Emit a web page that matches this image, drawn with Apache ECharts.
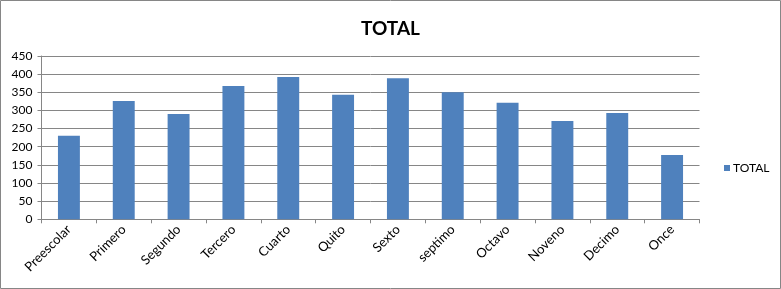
<!DOCTYPE html>
<html><head><meta charset="utf-8">
<script src="https://cdn.jsdelivr.net/npm/echarts@6/dist/echarts.min.js"></script>
<style>html,body{margin:0;padding:0;background:#fff}#c{width:781px;height:289px}</style>
</head><body><div id="c"></div>
<script>
const categories = ['Preescolar','Primero','Segundo','Tercero','Cuarto','Quito','Sexto','septimo','Octavo','Noveno','Decimo','Once'];
const totalValues = [230, 326, 290, 367, 392, 343, 389, 350, 321, 271, 293, 177];
const yTicks = {min: 0, max: 450, interval: 50};
const seriesName = 'TOTAL';
const titleText = 'TOTAL';

const chart = echarts.init(document.getElementById('c'), null, {renderer: 'canvas'});
const font = 'Lato, "Open Sans", sans-serif';
chart.setOption({
  animation: false,
  backgroundColor: '#fff',
  textStyle: {fontFamily: font},
  title: {text: titleText, left: 'center', top: 14,
    textStyle: {fontSize: 19, fontWeight: 'bold', color: '#000', fontFamily: font}},
  legend: {data: [seriesName], orient: 'vertical', left: 719, top: 157, itemWidth: 6, itemHeight: 6, itemGap: 4,
    icon: 'rect', textStyle: {fontSize: 12, color: '#000', fontFamily: font, padding: [0,0,0,-2]}},
  grid: {left: 41.5, right: 81.5, top: 56, bottom: 69.7, containLabel: false},
  xAxis: {type: 'category', data: categories,
    axisLine: {lineStyle: {color: '#868686', width: 1}},
    axisTick: {show: true, length: 4, alignWithLabel: false, lineStyle: {color: '#868686'}},
    axisLabel: {rotate: 45, fontSize: 13, color: '#000', fontFamily: font, margin: 8, interval: 0}},
  yAxis: {type: 'value', min: yTicks.min, max: yTicks.max, interval: yTicks.interval,
    axisLine: {show: true, lineStyle: {color: '#868686', width: 1}},
    axisTick: {show: true, length: 4, lineStyle: {color: '#868686'}},
    splitLine: {lineStyle: {color: '#868686', width: 1}},
    axisLabel: {fontSize: 12, color: '#000', fontFamily: font, margin: 9}},
  series: [{name: seriesName, type: 'bar', data: totalValues, barWidth: '40%',
    itemStyle: {color: '#4F81BD'}}],
  graphic: [{type: 'rect', shape: {x: 0.5, y: 0.5, width: 780, height: 288},
    style: {fill: null, stroke: '#868686', lineWidth: 1}, silent: true, z: 100}]
});
</script></body></html>
